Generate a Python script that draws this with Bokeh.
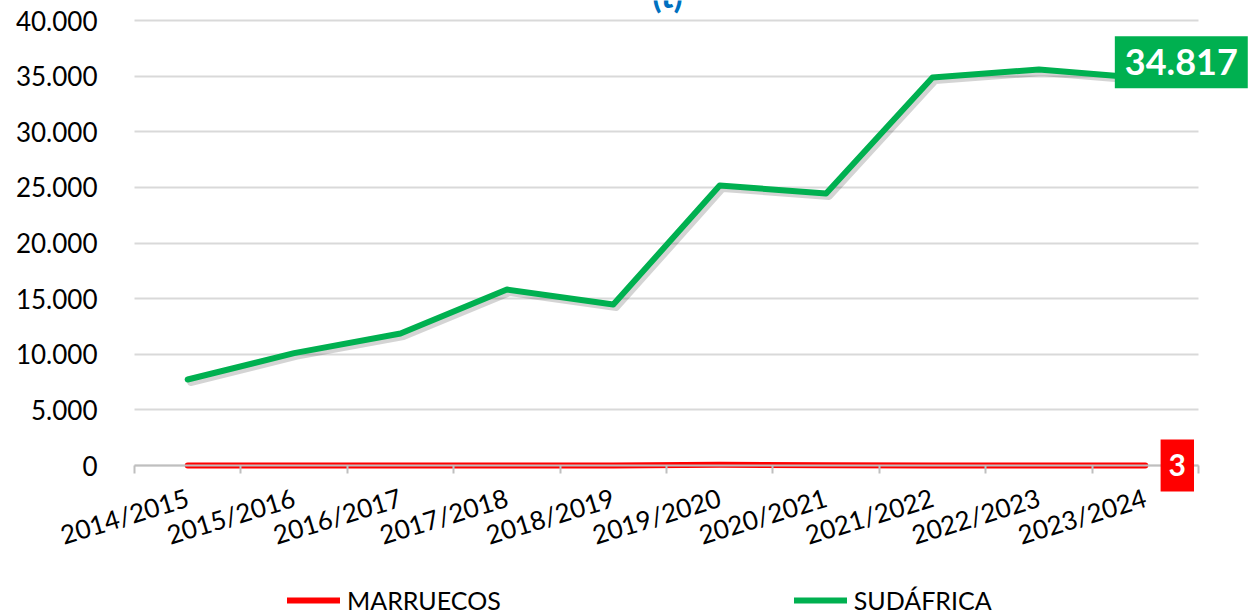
import math
from bokeh.plotting import figure
from bokeh.models import ColumnDataSource, FixedTicker, Label, Legend, LegendItem, Range1d
from bokeh.transform import dodge
from bokeh.embed import file_html
from bokeh.resources import INLINE

seasons = ["2014/2015", "2015/2016", "2016/2017", "2017/2018", "2018/2019",
           "2019/2020", "2020/2021", "2021/2022", "2022/2023", "2023/2024"]
sudafrica = [7730, 10100, 11870, 15820, 14470, 25170, 24450, 34880, 35600, 34817]
marruecos = [0, 0, 1, 2, 10, 60, 20, 2, 1, 3]
y_ticks = [0, 5000, 10000, 15000, 20000, 25000, 30000, 35000, 40000]
title_tail = "(t)"

FONT = "Lato"
GREEN = "#00B050"
RED = "#FF0000"
BLUE = "#0070C0"

W, H = 1248, 615
LEFT, TOP = 134, 20          # pixel position of the plot area's left / top edge
CAT_W = 106.4                # pixel width of one category
Y0_PX = 465                  # pixel row of value 0
n = len(seasons)
px_per_unit = (Y0_PX - TOP) / y_ticks[-1]

x = [i + 0.5 for i in range(n)]
src = ColumnDataSource(dict(x=x, sud=sudafrica, mar=marruecos))

p = figure(width=W, height=H, output_backend="svg", toolbar_location=None,
           x_range=Range1d(-LEFT / CAT_W, (W - LEFT) / CAT_W),
           y_range=Range1d(-(H - Y0_PX) / px_per_unit, y_ticks[-1] + TOP / px_per_unit),
           min_border_left=0, min_border_right=0, min_border_top=0,
           min_border_bottom=0)
p.outline_line_color = None
p.xgrid.visible = False

def fmt(v):
    return f"{v:,}".replace(",", ".")

# y axis
yax = p.yaxis[0]
yax.ticker = FixedTicker(ticks=y_ticks)
yax.major_label_overrides = {v: fmt(v) for v in y_ticks}
yax.fixed_location = 0
yax.axis_line_color = None
yax.major_tick_line_color = None
yax.minor_tick_line_color = None
yax.major_label_standoff = 31
yax.major_label_text_font = FONT
yax.major_label_text_font_size = "26px"
yax.major_label_text_color = "#000000"
p.ygrid.ticker = FixedTicker(ticks=y_ticks)
p.ygrid.grid_line_color = "#d9d9d9"
p.ygrid.grid_line_width = 2
p.ygrid.cross_bounds = (0, n)

# x axis
xax = p.xaxis[0]
xax.ticker = FixedTicker(ticks=x, minor_ticks=list(range(n + 1)))
xax.major_label_overrides = {xi: s for xi, s in zip(x, seasons)}
xax.fixed_location = 0
xax.bounds = (0, n)
xax.axis_line_color = "#bfbfbf"
xax.axis_line_width = 2
xax.major_tick_line_color = None
xax.minor_tick_line_color = "#bfbfbf"
xax.minor_tick_line_width = 2
xax.minor_tick_in = 0
xax.minor_tick_out = 8
xax.major_label_orientation = math.radians(17)
xax.major_label_standoff = 23
xax.major_label_text_font = FONT
xax.major_label_text_font_size = "26px"
xax.major_label_text_color = "#000000"

# lines
p.line(x=dodge("x", 0.028), y=dodge("sud", -270), source=src, line_color="black",
       line_alpha=0.17, line_width=7, line_cap="round", line_join="round")
r_mar = p.line("x", "mar", source=src, line_color=RED, line_width=6,
               line_cap="round", line_join="round")
r_sud = p.line("x", "sud", source=src, line_color=GREEN, line_width=6,
               line_cap="round", line_join="round")

legend = Legend(items=[LegendItem(label="MARRUECOS", renderers=[r_mar]),
                       LegendItem(label="SUDÁFRICA", renderers=[r_sud])],
                location=(287, 0), orientation="horizontal", spacing=293,
                glyph_width=53, glyph_height=20, label_standoff=7, padding=0, margin=0,
                border_line_color=None, background_fill_alpha=0,
                label_text_font=FONT, label_text_font_size="25px",
                label_text_color="#000000")
p.add_layout(legend, "center")

# title fragment (cut by the top edge, as in the reference)
p.add_layout(Label(x=667, y=H + 6, x_units="screen", y_units="screen", text=title_tail,
                   text_align="center", text_baseline="alphabetic", text_color=BLUE,
                   text_font=FONT, text_font_style="bold", text_font_size="34px"))

p.add_layout(Label(x=x[-1], y=sudafrica[-1], text=fmt(sudafrica[-1]),
                   x_offset=36, y_offset=16, text_align="center", text_baseline="middle",
                   text_color="white", text_font=FONT, text_font_style="bold",
                   text_font_size="36px", background_fill_color=GREEN,
                   padding=dict(left=10, right=10, top=13, bottom=13)))
p.add_layout(Label(x=x[-1], y=marruecos[-1], text=str(marruecos[-1]),
                   x_offset=32, y_offset=0, text_align="center", text_baseline="middle",
                   text_color="white", text_font=FONT, text_font_style="bold",
                   text_font_size="30px", background_fill_color=RED,
                   padding=dict(left=8, right=8, top=15, bottom=15)))

open("out.html", "w").write(file_html(p, INLINE))
